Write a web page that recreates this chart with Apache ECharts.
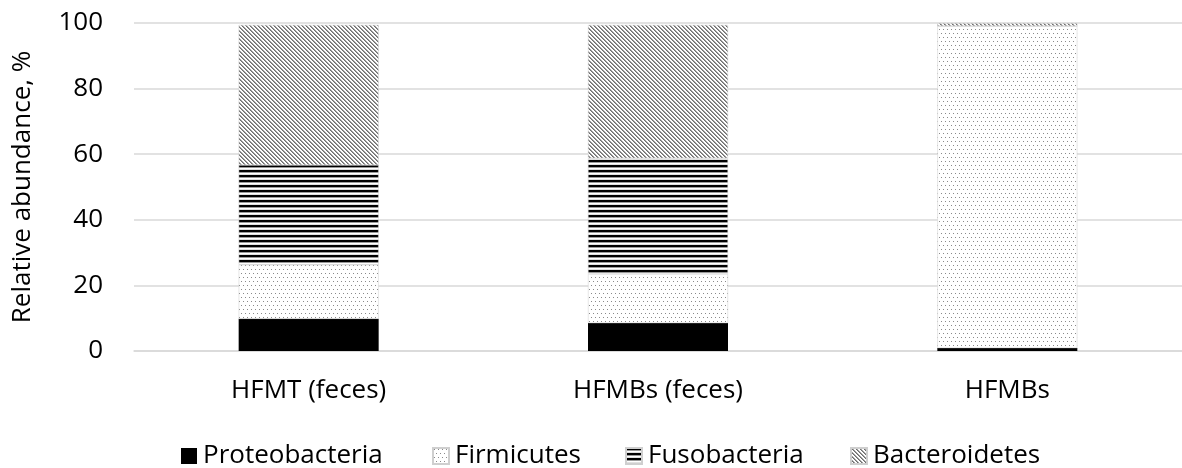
<!DOCTYPE html>
<html>
<head>
<meta charset="utf-8">
<script src="https://cdn.jsdelivr.net/npm/echarts@6/dist/echarts.min.js"></script>
<style>
html,body{margin:0;padding:0;background:#fff;}
#chart{width:1182px;height:468px;}
</style>
</head>
<body>
<div id="chart"></div>
<script>
var categories = ['HFMT (feces)', 'HFMBs (feces)', 'HFMBs'];
var seriesNames = ['Proteobacteria', 'Firmicutes', 'Fusobacteria', 'Bacteroidetes'];
var proteobacteria = [9.8, 8.5, 0.9];
var firmicutes = [16.5, 15.0, 98.2];
var fusobacteria = [30.4, 35.3, 0];
var bacteroidetes = [42.7, 40.6, 0.8];
var yTicks = [0, 20, 40, 60, 80, 100];

function makeTile(w, h, draw) {
  var c = document.createElement('canvas');
  c.width = w; c.height = h;
  var ctx = c.getContext('2d');
  ctx.fillStyle = '#ffffff';
  ctx.fillRect(0, 0, w, h);
  draw(ctx);
  return { image: c, repeat: 'repeat' };
}
var dotPattern = makeTile(8, 8, function (ctx) {
  ctx.fillStyle = '#8a8a8a';
  [[1,1],[5,1],[3,5],[7,5]].forEach(function (p) { ctx.fillRect(p[0], p[1], 1, 1); });
});
var hLinePattern = makeTile(5, 5, function (ctx) {
  ctx.fillStyle = '#000000'; ctx.fillRect(0, 0, 5, 2);
  ctx.fillStyle = '#9a9a9a'; ctx.fillRect(0, 2, 5, 1);
  ctx.fillStyle = '#e0e0e0'; ctx.fillRect(0, 4, 5, 1);
});
var diagPattern = makeTile(4, 4, function (ctx) {
  for (var y = 0; y < 4; y++) for (var x = 0; x < 4; x++) {
    var d = ((x - y) % 4 + 4) % 4;
    if (d === 0) { ctx.fillStyle = '#6e6e6e'; ctx.fillRect(x, y, 1, 1); }
    else if (d === 1) { ctx.fillStyle = '#9e9e9e'; ctx.fillRect(x, y, 1, 1); }
  }
});

var fills = ['#000000', dotPattern, hLinePattern, diagPattern];
var dataSets = [proteobacteria, firmicutes, fusobacteria, bacteroidetes];
var font = '"Open Sans", sans-serif';
var fs = 26;

var chart = echarts.init(document.getElementById('chart'), null, {renderer: 'canvas'});
var legendLefts = [176, 427, 620, 845];
var option = {
  animation: false,
  backgroundColor: '#ffffff',
  grid: { left: 134, width: 1056, top: 23, bottom: 117, containLabel: false },
  xAxis: {
    type: 'category',
    data: categories,
    axisLine: { show: true, lineStyle: { color: '#d9d9d9', width: 1.5 } },
    axisTick: { show: false },
    axisLabel: { fontSize: fs, color: '#000', fontFamily: font, margin: 27 }
  },
  yAxis: {
    type: 'value',
    min: 0, max: 100, interval: 20,
    name: 'Relative abundance, %',
    nameLocation: 'middle',
    nameGap: 98,
    nameTextStyle: { fontSize: fs, color: '#000', fontFamily: font },
    axisLine: { show: false },
    axisTick: { show: false },
    splitLine: { lineStyle: { color: '#d9d9d9', width: 1.5 } },
    axisLabel: { fontSize: fs, color: '#000', fontFamily: font, margin: 31 }
  },
  legend: seriesNames.map(function (n, i) {
    return {
      data: [n], left: legendLefts[i], top: 438,
      itemWidth: 16, itemHeight: 16, itemGap: 0,
      icon: 'rect',
      textStyle: { fontSize: fs, color: '#000', fontFamily: font, padding: [0,0,0,1] }
    };
  }),
  series: seriesNames.map(function (n, i) {
    return {
      name: n, type: 'bar', stack: 'total',
      data: dataSets[i], barWidth: 140,
      itemStyle: { color: fills[i], borderColor: i === 0 ? '#000' : '#cfcfcf', borderWidth: i === 0 ? 0 : 0.5 }
    };
  })
};
chart.setOption(option);
</script>
</body>
</html>
